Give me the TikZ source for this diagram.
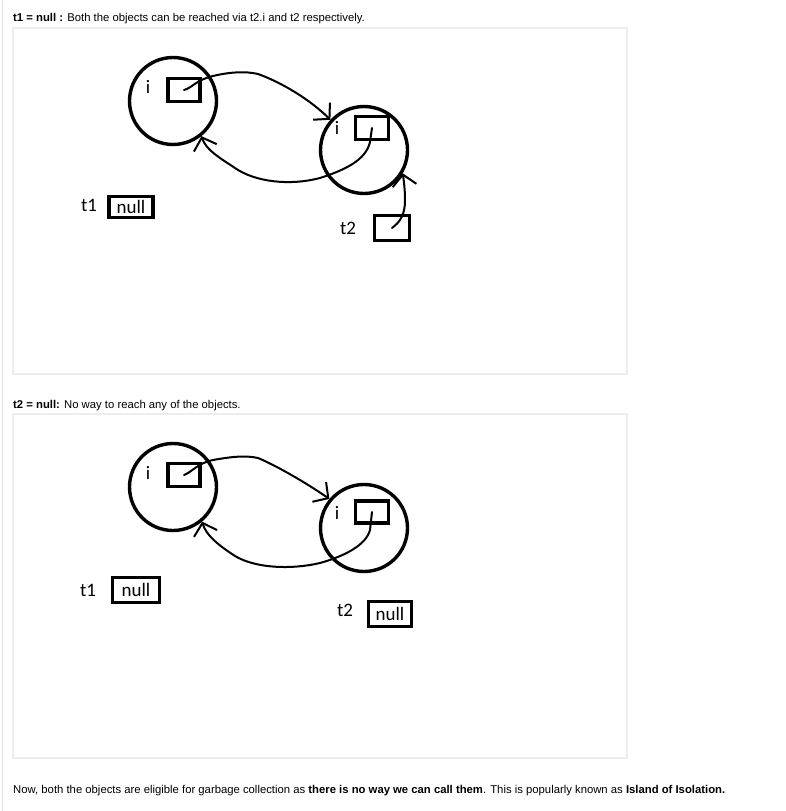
\documentclass[tikz,border=0pt]{standalone}
\usepackage{fontspec}
\setmainfont{Liberation Sans}
\newfontfamily\paintfont{Carlito}
\usetikzlibrary{arrows.meta}
\begin{document}
\begin{tikzpicture}[x=1pt,y=-1pt,
  panel/.style={draw=black!7, line width=1.5pt, fill=white},
  obj/.style={circle, draw, line width=3.4pt, minimum size=87pt, inner sep=0pt},
  refbox/.style={draw, line width=3.3pt, inner sep=0pt},
  lbl/.style={inner sep=0pt, font=\paintfont\fontsize{19}{19}\selectfont},
  conn/.style={line width=2pt, line cap=round, line join=round,
    -{Straight Barb[length=11pt,width=24pt,line width=2pt]}},
  caption/.style={anchor=base west, inner sep=0pt, font=\fontsize{11.3}{13}\selectfont}
]
\useasboundingbox[fill=white] (0,0) rectangle (786,811);
\draw[black!12, line width=1pt] (2,0) -- (2,811);

% captions
\node[caption] (cap1) at (13,21) {\textbf{t1 = null :} Both the objects can be reached via t2.i and t2 respectively.};
\node[caption] (cap2) at (13,408) {\textbf{t2 = null:} No way to reach any of the objects.};
\node[caption] (cap3) at (13,793) {Now, both the objects are eligible for garbage collection as \textbf{there is no way we can call them}. This is popularly known as \textbf{Island of Isolation.}};

% panels
\draw[panel] (13,28) rectangle (627,374);
\draw[panel] (13,414) rectangle (627,758);

% ---------- panel 1 ----------
\node[obj] (c1) at (173,101) {};
\node[obj] (c2) at (364,150) {};
\node[lbl] (i1) at (148,87) {i};
\node[lbl] (i2) at (337,128) {i};
\node[refbox, minimum width=32pt, minimum height=23pt] (b1) at (184,90) {};
\node[refbox, minimum width=33pt, minimum height=23pt] (b2) at (372,128) {};
\node[lbl] (t1) at (89,205) {t1};
\node[refbox, lbl, minimum width=44pt, minimum height=21pt] (n1) at (131,207) {null};
\node[lbl] (t2) at (348,228) {t2};
\node[refbox, minimum width=35pt, minimum height=25pt] (b3) at (392,228) {};

\draw[conn] (b1.center) .. controls (192,88) and (196,80) .. (213,76)
  .. controls (230,72) and (245,71) .. (258,74)
  .. controls (275,80) and (305,95) .. (c2.138);
\draw[conn] (b2.center) -- (370,142) .. controls (366,160) and (345,170) .. (320,178)
  .. controls (290,186) and (255,182) .. (235,168)
  .. controls (220,158) and (206,150) .. (c1.-51);
\draw[conn] (b3.center) .. controls (400,222) and (405,215) .. (405,200)
  .. controls (405,190) and (404,182) .. (c2.-31);

% ---------- panel 2 ----------
\node[obj] (d1) at (173,487) {};
\node[obj] (d2) at (364,528) {};
\node[lbl] (j1) at (148,473) {i};
\node[lbl] (j2) at (337,513) {i};
\node[refbox, minimum width=32pt, minimum height=23pt] (e1) at (184,475) {};
\node[refbox, minimum width=33pt, minimum height=22pt] (e2) at (372,512) {};
\node[lbl] (u1) at (88,590) {t1};
\node[refbox, lbl, minimum width=47pt, minimum height=25pt] (m1) at (136,590) {null};
\node[lbl] (u2) at (345,610) {t2};
\node[refbox, lbl, minimum width=43pt, minimum height=25pt] (m2) at (390,614) {null};

\draw[conn] (e1.center) .. controls (192,472) and (198,463) .. (213,460)
  .. controls (230,457) and (245,455) .. (258,458)
  .. controls (275,465) and (305,482) .. (d2.140);
\draw[conn] (e2.center) -- (370,530) .. controls (366,545) and (345,556) .. (320,563)
  .. controls (290,570) and (255,568) .. (235,556)
  .. controls (218,545) and (206,535) .. (d1.-50);
\end{tikzpicture}
\end{document}
